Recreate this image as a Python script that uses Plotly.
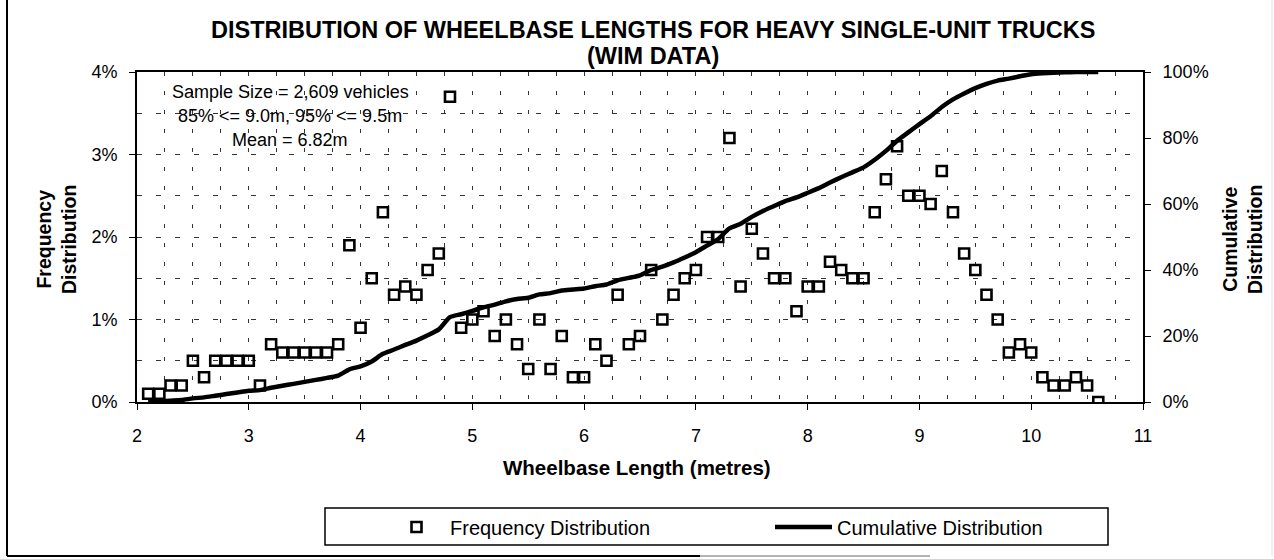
import plotly.graph_objects as go

# ---------------- data ----------------
wheelbase_m = [2.1, 2.2, 2.3, 2.4, 2.5, 2.6, 2.7, 2.8, 2.9, 3.0,
               3.1, 3.2, 3.3, 3.4, 3.5, 3.6, 3.7, 3.8, 3.9, 4.0,
               4.1, 4.2, 4.3, 4.4, 4.5, 4.6, 4.7, 4.8, 4.9, 5.0,
               5.1, 5.2, 5.3, 5.4, 5.5, 5.6, 5.7, 5.8, 5.9, 6.0,
               6.1, 6.2, 6.3, 6.4, 6.5, 6.6, 6.7, 6.8, 6.9, 7.0,
               7.1, 7.2, 7.3, 7.4, 7.5, 7.6, 7.7, 7.8, 7.9, 8.0,
               8.1, 8.2, 8.3, 8.4, 8.5, 8.6, 8.7, 8.8, 8.9, 9.0,
               9.1, 9.2, 9.3, 9.4, 9.5, 9.6, 9.7, 9.8, 9.9, 10.0,
               10.1, 10.2, 10.3, 10.4, 10.5, 10.6]

frequency_pct = [0.1, 0.1, 0.2, 0.2, 0.5, 0.3, 0.5, 0.5, 0.5, 0.5,
                 0.2, 0.7, 0.6, 0.6, 0.6, 0.6, 0.6, 0.7, 1.9, 0.9,
                 1.5, 2.3, 1.3, 1.4, 1.3, 1.6, 1.8, 3.7, 0.9, 1.0,
                 1.1, 0.8, 1.0, 0.7, 0.4, 1.0, 0.4, 0.8, 0.3, 0.3,
                 0.7, 0.5, 1.3, 0.7, 0.8, 1.6, 1.0, 1.3, 1.5, 1.6,
                 2.0, 2.0, 3.2, 1.4, 2.1, 1.8, 1.5, 1.5, 1.1, 1.4,
                 1.4, 1.7, 1.6, 1.5, 1.5, 2.3, 2.7, 3.1, 2.5, 2.5,
                 2.4, 2.8, 2.3, 1.8, 1.6, 1.3, 1.0, 0.6, 0.7, 0.6,
                 0.3, 0.2, 0.2, 0.3, 0.2, 0.0]

cumulative_pct = [0.1, 0.2, 0.4, 0.6, 1.1, 1.4, 1.9, 2.4, 2.9, 3.4,
                  3.6, 4.3, 4.9, 5.5, 6.1, 6.7, 7.3, 8.0, 9.9, 10.8,
                  12.3, 14.6, 15.9, 17.3, 18.6, 20.2, 22.0, 25.7, 26.6, 27.6,
                  28.7, 29.5, 30.5, 31.2, 31.6, 32.6, 33.0, 33.8, 34.1, 34.4,
                  35.1, 35.6, 36.9, 37.6, 38.4, 40.0, 41.0, 42.3, 43.8, 45.4,
                  47.4, 49.4, 52.6, 54.0, 56.1, 57.9, 59.4, 60.9, 62.0, 63.4,
                  64.8, 66.5, 68.1, 69.6, 71.1, 73.4, 76.1, 79.2, 81.7, 84.2,
                  86.6, 89.4, 91.7, 93.5, 95.1, 96.4, 97.4, 98.0, 98.7, 99.3,
                  99.6, 99.8, 99.9, 100.0, 100.0, 100.0]

left_ticks = [0, 1, 2, 3, 4]
right_ticks = [0, 20, 40, 60, 80, 100]
x_ticks = [2, 3, 4, 5, 6, 7, 8, 9, 10, 11]

title_line1 = "DISTRIBUTION OF WHEELBASE LENGTHS FOR HEAVY SINGLE-UNIT TRUCKS"
title_line2 = "(WIM DATA)"
note_lines = ["Sample Size = 2,609 vehicles", "85% <= 9.0m, 95% <= 9.5m", "Mean = 6.82m"]

# ---------------- layout geometry (pixels) ----------------
W, H = 1274, 559
PL, PR, PT, PB = 137, 1143, 72, 402
FONT = "Arial, Liberation Sans, sans-serif"


def px(x):
    return (x - PL) / (PR - PL)


def py(y):
    return (PB - y) / (PB - PT)


fig = go.Figure()
fig.add_trace(go.Scatter(
    x=wheelbase_m, y=frequency_pct, mode="markers", name="Frequency Distribution",
    marker=dict(symbol="square-open", size=10, color="black", line=dict(width=2.6, color="black")),
    yaxis="y"))
fig.add_trace(go.Scatter(
    x=wheelbase_m, y=cumulative_pct, mode="lines", name="Cumulative Distribution",
    line=dict(color="black", width=4.5, shape="spline", smoothing=0.6),
    yaxis="y2"))

grid_col = "#333333"
fig.update_layout(
    width=W, height=H,
    margin=dict(l=PL, r=W - PR, t=PT, b=H - PB, pad=0),
    paper_bgcolor="white", plot_bgcolor="white",
    font=dict(family=FONT, color="black", size=18),
    showlegend=True,
    legend=dict(orientation="h", x=px(383), xanchor="left", y=py(527), yanchor="middle",
                font=dict(size=20, family=FONT, color="black"),
                bgcolor="rgba(0,0,0,0)", borderwidth=0,
                itemwidth=57, entrywidth=315, entrywidthmode="pixels",
                traceorder="normal"),
    xaxis=dict(range=[2, 11], tickvals=x_ticks, ticktext=[str(v) for v in x_ticks],
               showline=True, linecolor="black", linewidth=2, mirror=True,
               ticks="outside", ticklen=6, tickcolor="black", tickwidth=1,
               ticklabelstandoff=10,
               showgrid=True, gridcolor=grid_col, gridwidth=1, griddash="4px,15px",
               minor=dict(dtick=0.25, showgrid=True, gridcolor=grid_col, gridwidth=1,
                          griddash="4px,15px", ticks=""),
               zeroline=False, tickfont=dict(size=18)),
    yaxis=dict(range=[0, 4], tickvals=left_ticks, ticktext=[f"{v}%" for v in left_ticks],
               showline=True, linecolor="black", linewidth=2,
               ticks="outside", ticklen=6, tickcolor="black", tickwidth=1,
               ticklabelstandoff=8,
               showgrid=True, gridcolor=grid_col, gridwidth=1, griddash="5px,14px",
               minor=dict(dtick=0.5, showgrid=True, gridcolor=grid_col, gridwidth=1,
                          griddash="5px,14px", ticks=""),
               zeroline=False, tickfont=dict(size=18)),
    yaxis2=dict(range=[0, 100], tickvals=right_ticks, ticktext=[f"{v}%" for v in right_ticks],
                overlaying="y", side="right",
                showline=True, linecolor="black", linewidth=2,
                ticks="outside", ticklen=6, tickcolor="black", tickwidth=1,
                ticklabelstandoff=8,
                showgrid=False, zeroline=False, tickfont=dict(size=18)),
)

ann = []
ann.append(dict(text="<b>" + title_line1 + "</b>", x=px(653), y=py(30), xref="paper", yref="paper",
                showarrow=False, font=dict(size=23.5, family=FONT), xanchor="center", yanchor="middle"))
ann.append(dict(text="<b>" + title_line2 + "</b>", x=px(653), y=py(56), xref="paper", yref="paper",
                showarrow=False, font=dict(size=23.5, family=FONT), xanchor="center", yanchor="middle"))
ann.append(dict(text="<b>Wheelbase Length (metres)</b>", x=px(637), y=py(467), xref="paper", yref="paper",
                showarrow=False, font=dict(size=20.5, family=FONT), xanchor="center", yanchor="middle"))
ann.append(dict(text="<b>Frequency<br>Distribution</b>", x=px(57), y=py(240), xref="paper", yref="paper",
                showarrow=False, font=dict(size=19.5, family=FONT), textangle=-90,
                xanchor="center", yanchor="middle"))
ann.append(dict(text="<b>Cumulative<br>Distribution</b>", x=px(1243), y=py(240), xref="paper", yref="paper",
                showarrow=False, font=dict(size=19.5, family=FONT), textangle=-90,
                xanchor="center", yanchor="middle"))
for line, yy in zip(note_lines, [92, 116, 140]):
    ann.append(dict(text=line, x=px(290), y=py(yy), xref="paper", yref="paper",
                    showarrow=False, font=dict(size=18, family=FONT),
                    xanchor="center", yanchor="middle"))
fig.update_layout(annotations=ann)

shapes = [
    # legend box
    dict(type="rect", xref="paper", yref="paper", x0=px(325), x1=px(1108), y0=py(545), y1=py(508),
         line=dict(color="black", width=1.5), fillcolor="rgba(0,0,0,0)"),
    # outer frame (edges of the scanned page)
    dict(type="line", xref="paper", yref="paper", x0=px(7), x1=px(7), y0=py(0), y1=py(556),
         line=dict(color="black", width=2)),
    dict(type="line", xref="paper", yref="paper", x0=px(7), x1=px(700), y0=py(556), y1=py(556),
         line=dict(color="black", width=2)),
    dict(type="line", xref="paper", yref="paper", x0=px(700), x1=px(930), y0=py(556), y1=py(556),
         line=dict(color="#9a9a9a", width=1.5)),
    dict(type="line", xref="paper", yref="paper", x0=px(1272), x1=px(1272), y0=py(0), y1=py(556),
         line=dict(color="#e2e2e2", width=1)),
]
fig.update_layout(shapes=shapes)

fig.write_html("out.html",
               config={"displayModeBar": False},
               post_script="document.body.style.margin='0';document.body.style.overflow='hidden';")
